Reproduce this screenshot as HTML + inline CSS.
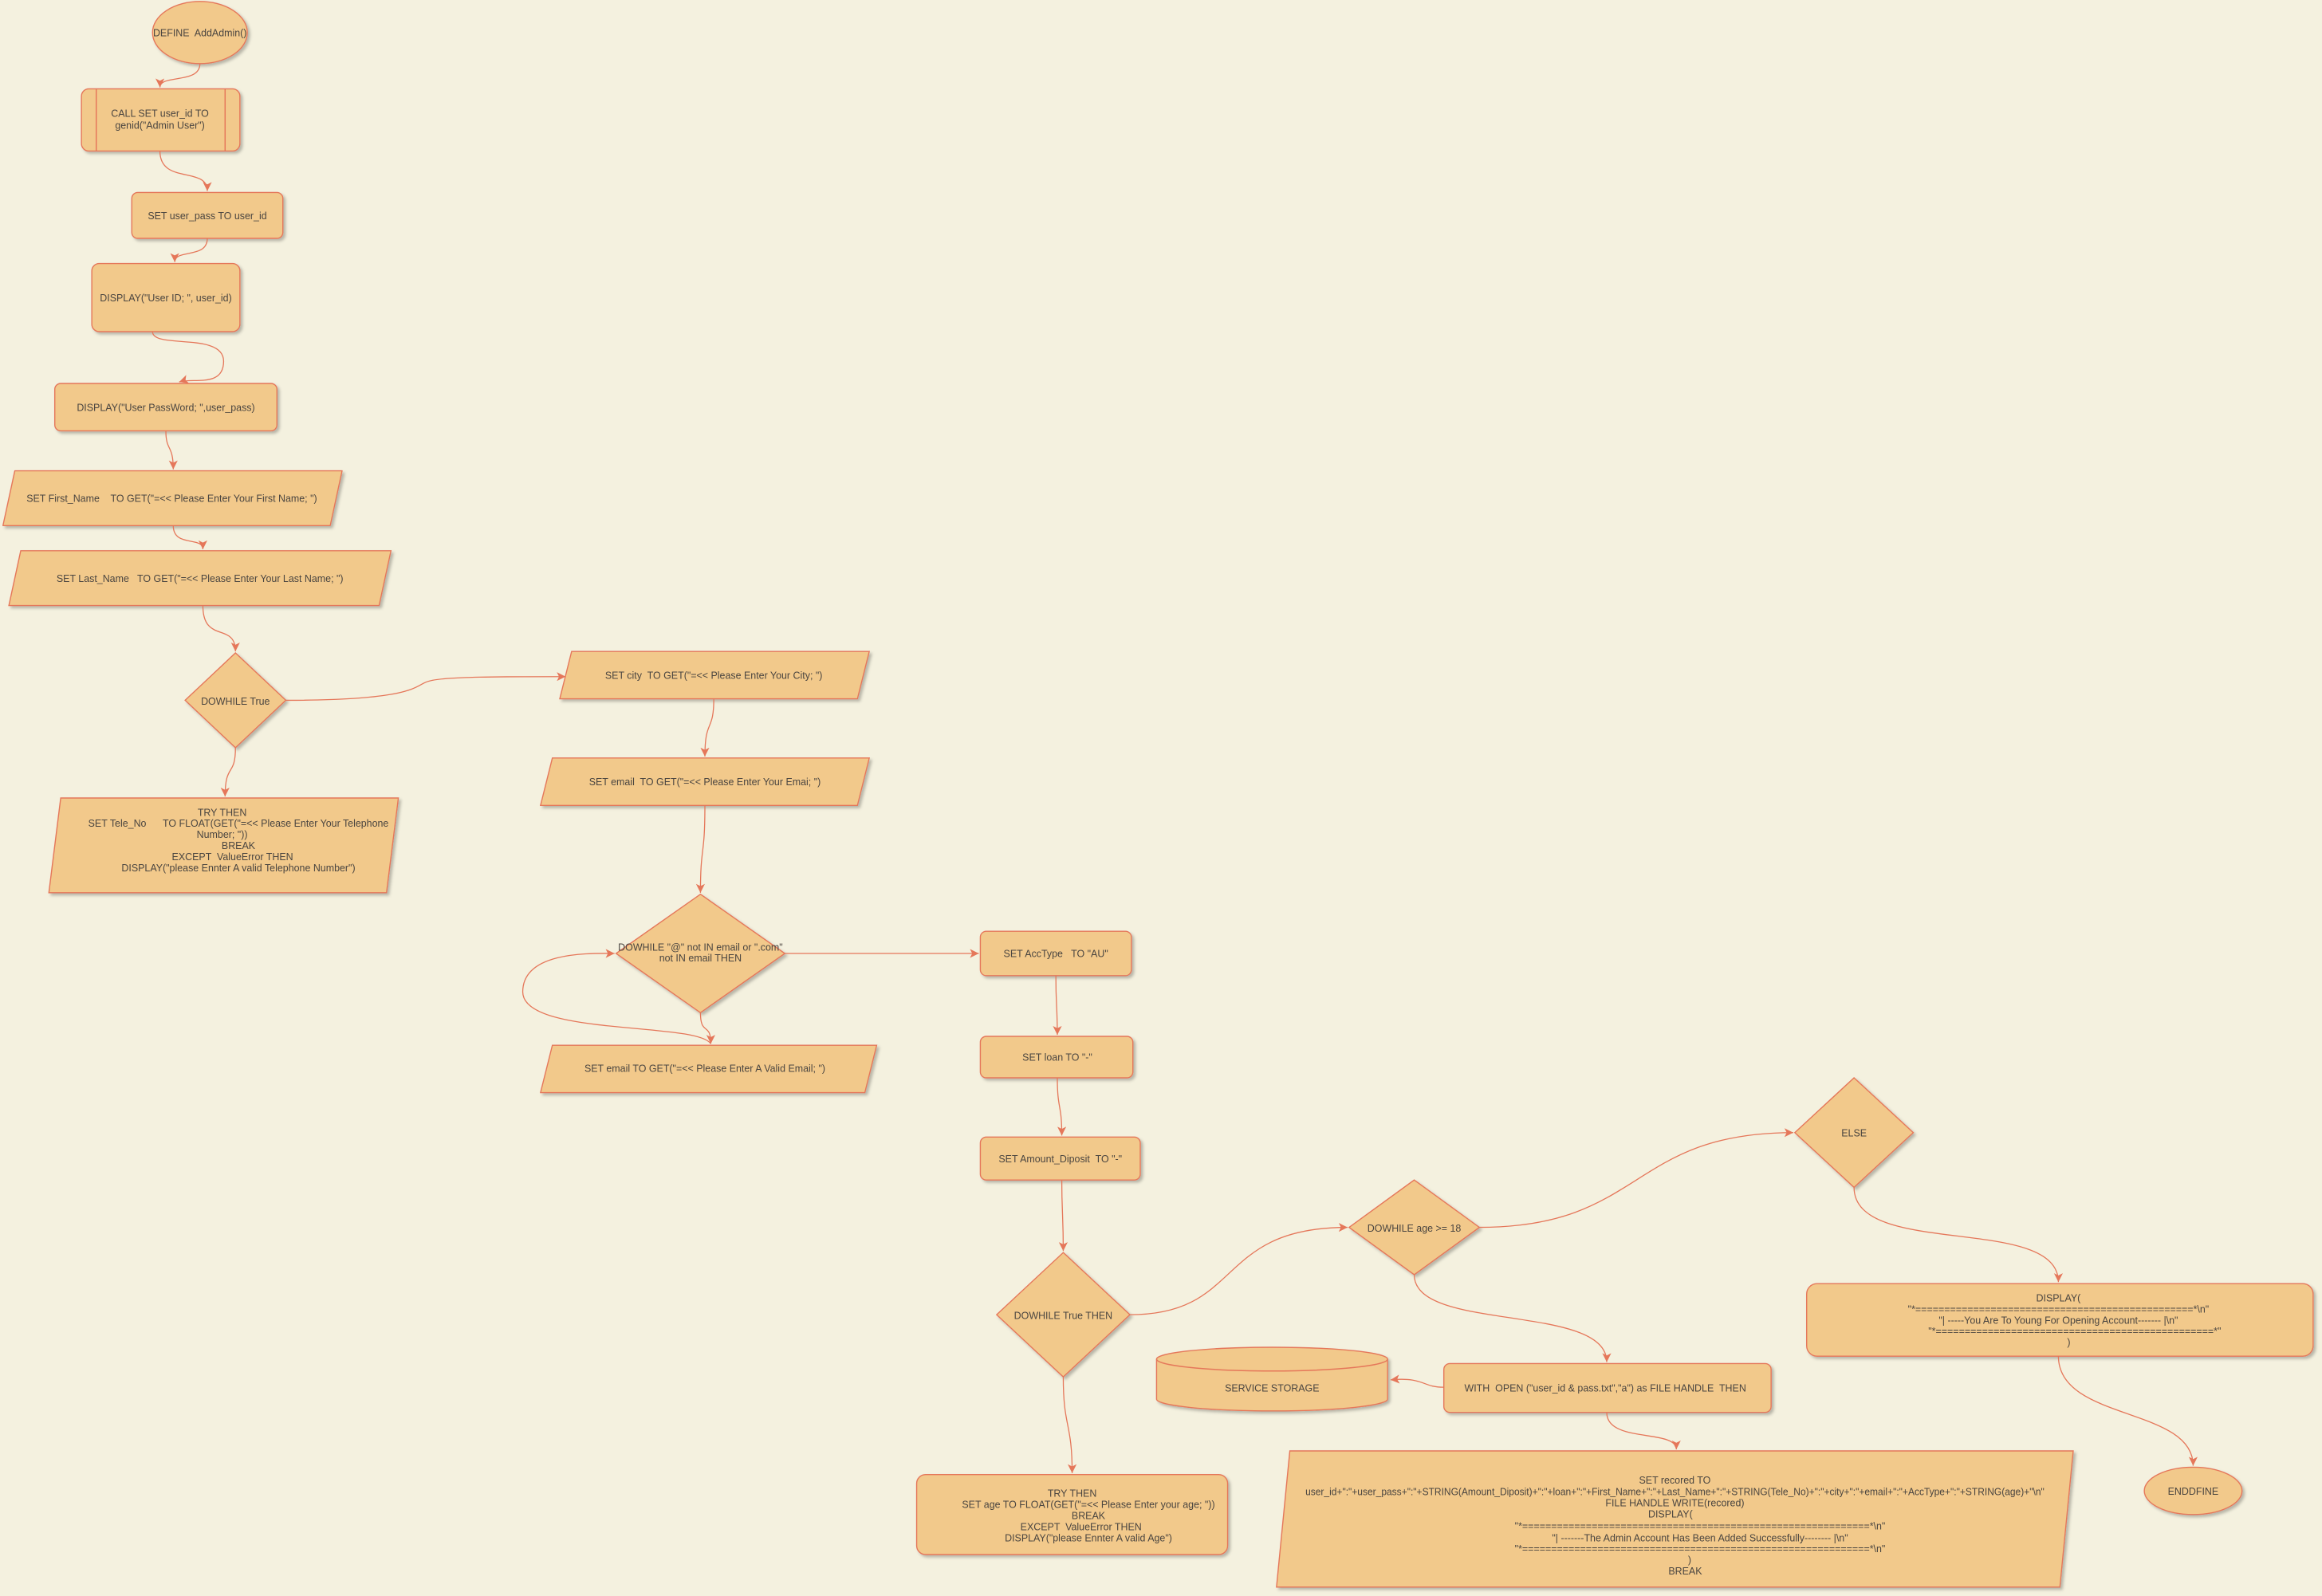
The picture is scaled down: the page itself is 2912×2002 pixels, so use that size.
<!DOCTYPE html>
<html><head><meta charset="utf-8"><style>
html,body{margin:0;padding:0;background:#f4f1df;}
svg{display:block;}
text{font-family:"Liberation Sans",sans-serif;font-size:6.7px;fill:#4a4540;white-space:pre;}
</style></head><body>
<svg width="2912" height="2002" viewBox="0 0 1568 1078" xmlns="http://www.w3.org/2000/svg">
<defs>
<marker id="a" markerWidth="8" markerHeight="8" refX="6" refY="3" orient="auto" markerUnits="userSpaceOnUse"><path d="M0,0 L6,3 L0,6 L1.5,3 Z" fill="#e5775a"/></marker>
<filter id="s" x="-10%" y="-10%" width="130%" height="130%"><feDropShadow dx="1.5" dy="1.5" stdDeviation="1" flood-color="#000" flood-opacity="0.25"/></filter>
</defs>
<rect width="1568" height="1078" fill="#f4f1df"/>
<g fill="#f2c98b" stroke="#e5775a" stroke-width="0.75" filter="url(#s)">
<ellipse cx="135" cy="22" rx="32" ry="21"/>
<rect x="55" y="60" width="107" height="42" rx="5"/>
<rect x="89" y="130" width="102" height="31" rx="4"/>
<rect x="62" y="178" width="100" height="46" rx="5"/>
<rect x="37" y="259" width="150" height="32" rx="4"/>
<path d="M10,318 L231,318 L223,355 L2,355 Z" stroke-linejoin="round"/>
<path d="M14,372 L264,372 L256,409 L6,409 Z"/>
<path d="M159,441 L193,473 L159,505 L125,473 Z"/>
<path d="M41,539 L269,539 L261,603 L33,603 Z"/>
<path d="M386,440 L587,440 L579,472 L378,472 Z"/>
<path d="M373,512 L587,512 L579,544 L365,544 Z"/>
<path d="M473,604 L530,644 L473,684 L416,644 Z"/>
<path d="M373,706 L592,706 L584,738 L365,738 Z"/>
<rect x="662" y="629" width="102" height="30" rx="4"/>
<rect x="662" y="700" width="103" height="28" rx="4"/>
<rect x="662" y="768" width="108" height="29" rx="4"/>
<path d="M718,846 L763,888 L718,930 L673,888 Z"/>
<rect x="619" y="996" width="210" height="54" rx="6"/>
<path d="M955,797 L999,829 L955,861 L911,829 Z"/>
<path d="M1252,728 L1292,765 L1252,802 L1212,765 Z"/>
<rect x="1220" y="867" width="342" height="49" rx="7"/>
<ellipse cx="1481" cy="1007" rx="33" ry="16"/>
<path d="M781,918 A78,8 0 0 1 937,918 L937,945 A78,8 0 0 1 781,945 Z"/>
<rect x="975" y="921" width="221" height="33" rx="4"/>
<path d="M871,980 L1400,980 L1391,1072 L862,1072 Z"/>
</g>
<g fill="none" stroke="#e5775a" stroke-width="0.8">
<line x1="65" y1="60" x2="65" y2="102"/><line x1="152" y1="60" x2="152" y2="102"/>
<path d="M781,918 A78,8 0 0 0 937,918"/>
</g>
<g fill="none" stroke="#e5775a" stroke-width="0.7" marker-end="url(#a)">
<path d="M135,43 C135,57 108,50 108,59"/>
<path d="M108,102 C108,125 140,112 140,129"/>
<path d="M140,161 C140,175 118,168 118,177"/>
<path d="M103,224 C103,236 151,224 151,244 C151,262 130,255 121,258"/>
<path d="M112,291 C112,305 117,300 117,317"/>
<path d="M117,355 C117,370 137,362 137,371"/>
<path d="M137,409 C137,435 159,420 159,440"/>
<path d="M193,473 C285,473 280,462 290,460 C300,457 340,457 382,457"/>
<path d="M159,505 C159,525 152,515 152,538"/>
<path d="M482,472 C482,495 476,485 476,511"/>
<path d="M476,544 C476,580 473,570 473,603"/>
<path d="M473,684 C473,700 480,690 480,705"/>
<path d="M480,705 C470,690 353,700 353,670 C353,642 400,644 415,644"/>
<path d="M530,644 L661,644"/>
<path d="M713,659 C713,680 714,680 714,699"/>
<path d="M714,728 C714,750 717,745 717,767"/>
<path d="M717,797 C717,820 718,820 718,845"/>
<path d="M718,930 C718,965 724,960 724,995"/>
<path d="M763,888 C840,888 820,829 910,829"/>
<path d="M999,829 C1110,829 1100,765 1211,765"/>
<path d="M955,861 C955,900 1085,880 1085,920"/>
<path d="M1252,802 C1252,850 1390,820 1390,866"/>
<path d="M1390,916 C1390,960 1481,950 1481,990"/>
<path d="M1085,954 C1085,975 1132,965 1132,979"/>
<path d="M975,937 C960,937 962,930 939,932"/>
</g>
<g text-anchor="middle">
<text x="135" y="24.5">DEFINE  AddAdmin()</text>
<text x="108" y="79">CALL SET user_id TO</text><text x="108" y="87">genid("Admin User")</text>
<text x="140" y="148">SET user_pass TO user_id</text>
<text x="112" y="203.5">DISPLAY("User ID; ", user_id)</text>
<text x="112" y="277.5">DISPLAY("User PassWord; ",user_pass)</text>
<text x="116" y="339">SET First_Name    TO GET("=&lt;&lt; Please Enter Your First Name; ")</text>
<text x="135" y="393">SET Last_Name   TO GET("=&lt;&lt; Please Enter Your Last Name; ")</text>
<text x="159" y="476">DOWHILE True</text>
<text x="150" y="551">TRY THEN</text>
<text x="161" y="558.5">SET Tele_No      TO FLOAT(GET("=&lt;&lt; Please Enter Your Telephone</text>
<text x="150" y="566">Number; "))</text>
<text x="161" y="573.5">BREAK</text>
<text x="157" y="581">EXCEPT  ValueError THEN</text>
<text x="161" y="588.5">DISPLAY("please Ennter A valid Telephone Number")</text>
<text x="482" y="458.5">SET city  TO GET("=&lt;&lt; Please Enter Your City; ")</text>
<text x="476" y="530.5">SET email  TO GET("=&lt;&lt; Please Enter Your Emai; ")</text>
<text x="473" y="642">DOWHILE "@" not IN email or ".com"</text>
<text x="473" y="649.5">not IN email THEN</text>
<text x="476" y="724">SET email TO GET("=&lt;&lt; Please Enter A Valid Email; ")</text>
<text x="713" y="646.5">SET AccType   TO "AU"</text>
<text x="714" y="716.5">SET loan TO "-"</text>
<text x="716" y="785">SET Amount_Diposit  TO "-"</text>
<text x="718" y="891">DOWHILE True THEN</text>
<text x="724" y="1011">TRY THEN</text>
<text x="735" y="1018.5">SET age TO FLOAT(GET("=&lt;&lt; Please Enter your age; "))</text>
<text x="735" y="1026">BREAK</text>
<text x="730" y="1033.5">EXCEPT  ValueError THEN</text>
<text x="735" y="1041">DISPLAY("please Ennter A valid Age")</text>
<text x="955" y="832">DOWHILE age &gt;= 18</text>
<text x="1252" y="767.5">ELSE</text>
<text x="1390" y="879">DISPLAY(</text>
<text x="1390" y="886.5">"*================================================*\n"</text>
<text x="1390" y="894">"| -----You Are To Young For Opening Account------- |\n"</text>
<text x="1401" y="901.5">"*================================================*"</text>
<text x="1397" y="909">)</text>
<text x="1481" y="1009.5">ENDDFINE</text>
<text x="859" y="940">SERVICE STORAGE</text>
<text x="1084" y="940">WITH  OPEN ("user_id &amp; pass.txt","a") as FILE HANDLE  THEN</text>
<text x="1131" y="1002">SET recored TO</text>
<text x="1131" y="1010" textLength="499" lengthAdjust="spacingAndGlyphs">user_id+":"+user_pass+":"+STRING(Amount_Diposit)+":"+loan+":"+First_Name+":"+Last_Name+":"+STRING(Tele_No)+":"+city+":"+email+":"+AccType+":"+STRING(age)+"\n"</text>
<text x="1131" y="1017.5">FILE HANDLE WRITE(recored)</text>
<text x="1128" y="1025">DISPLAY(</text>
<text x="1148" y="1033">"*============================================================*\n"</text>
<text x="1148" y="1041">"| -------The Admin Account Has Been Added Successfully-------- |\n"</text>
<text x="1148" y="1048.5">"*============================================================*\n"</text>
<text x="1141" y="1056">)</text>
<text x="1138" y="1063.5">BREAK</text>
</g>
</svg>
</body></html>
